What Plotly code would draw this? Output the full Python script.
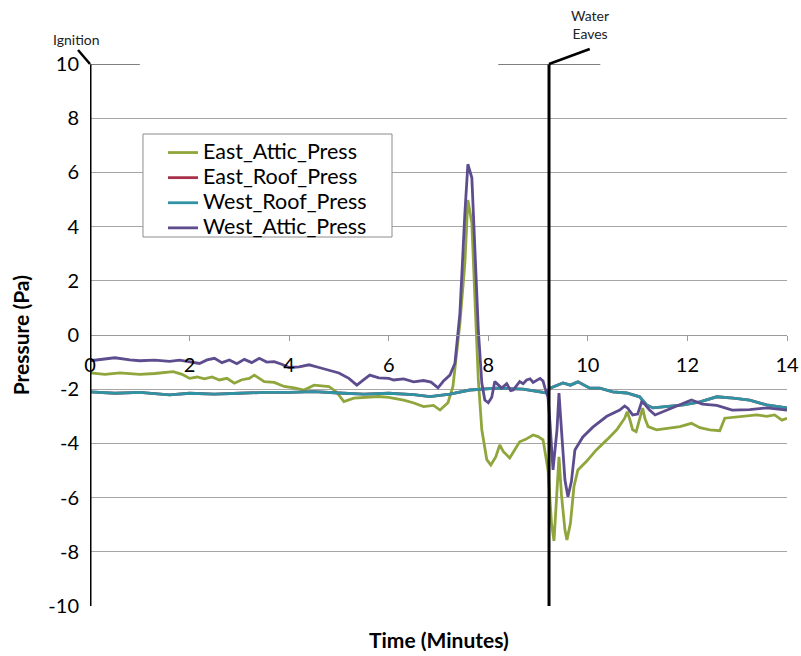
import plotly.graph_objects as go

# ---- data ----
east_attic_t = [0, 0.3, 0.6, 1.0, 1.3, 1.67, 1.85, 2.0, 2.15, 2.3, 2.45, 2.6, 2.75, 2.9, 3.05, 3.2, 3.3, 3.5, 3.7, 3.9,
                4.1, 4.3, 4.5, 4.65, 4.8, 4.95, 5.1, 5.3, 5.5, 5.8, 6.0, 6.3, 6.49, 6.7, 6.9, 7.03, 7.19, 7.29, 7.43, 7.53,
                7.59, 7.67, 7.73, 7.8, 7.87, 7.97, 8.05, 8.15, 8.23, 8.3, 8.43, 8.55, 8.63, 8.75, 8.9, 9.0, 9.1, 9.2, 9.27, 9.32,
                9.38, 9.42, 9.47, 9.54, 9.58, 9.65, 9.72, 9.8, 9.97, 10.17, 10.38, 10.58, 10.74, 10.79, 10.84, 10.9, 10.97, 11.04, 11.1, 11.15,
                11.21, 11.38, 11.58, 11.85, 12.08, 12.25, 12.45, 12.65, 12.75, 13.05, 13.39, 13.59, 13.75, 13.9, 14.0]
east_attic_p = [-1.4, -1.45, -1.4, -1.45, -1.42, -1.35, -1.45, -1.6, -1.55, -1.62, -1.55, -1.66, -1.6, -1.78, -1.65, -1.6, -1.48, -1.72, -1.75, -1.9,
                -1.95, -2.03, -1.85, -1.88, -1.9, -2.1, -2.46, -2.33, -2.3, -2.27, -2.3, -2.4, -2.5, -2.64, -2.6, -2.77, -2.5, -1.9, 0.44, 2.66,
                4.98, 4.13, 1.41, -1.66, -3.5, -4.6, -4.8, -4.5, -4.06, -4.3, -4.54, -4.2, -3.94, -3.85, -3.69, -3.75, -3.87, -4.98, -6.95, -7.6,
                -5.96, -4.5, -5.9, -7.2, -7.56, -6.95, -5.6, -4.98, -4.67, -4.24, -3.87, -3.5, -3.07, -2.83, -3.1, -3.5, -3.57, -3.14, -2.7, -3.1,
                -3.38, -3.5, -3.44, -3.38, -3.26, -3.42, -3.5, -3.53, -3.07, -3.01, -2.95, -3.0, -2.95, -3.14, -3.07]

roof_t = [0, 0.5, 1.0, 1.6, 2.0, 2.5, 3.0, 3.5, 4.0, 4.5, 5.0, 5.5, 6.0, 6.5, 6.83, 7.23, 7.63, 8.17, 8.7, 9.17,
          9.24, 9.5, 9.65, 9.8, 10.04, 10.24, 10.5, 10.78, 11.04, 11.18, 11.31, 11.58, 11.92, 12.25, 12.59, 12.92, 13.25, 13.59, 14.0]
east_roof_p = [-2.1, -2.15, -2.12, -2.21, -2.15, -2.18, -2.15, -2.12, -2.12, -2.09, -2.14, -2.18, -2.15, -2.2, -2.27, -2.18, -2.03, -1.96, -2.0, -2.14,
               -1.96, -1.77, -1.85, -1.73, -1.96, -1.96, -2.1, -2.14, -2.28, -2.58, -2.69, -2.65, -2.58, -2.47, -2.28, -2.33, -2.4, -2.58, -2.69]
west_roof_p = [-2.1, -2.15, -2.12, -2.21, -2.15, -2.18, -2.15, -2.12, -2.12, -2.09, -2.14, -2.18, -2.15, -2.2, -2.27, -2.18, -2.03, -1.96, -2.0, -2.14,
               -1.96, -1.77, -1.85, -1.73, -1.96, -1.96, -2.1, -2.14, -2.28, -2.58, -2.69, -2.65, -2.58, -2.47, -2.28, -2.33, -2.4, -2.58, -2.69]

west_attic_t = [0, 0.3, 0.5, 0.8, 1.0, 1.3, 1.6, 1.8, 2.0, 2.2, 2.35, 2.5, 2.65, 2.8, 2.95, 3.1, 3.25, 3.4, 3.55, 3.7,
                3.85, 4.0, 4.2, 4.4, 4.6, 4.8, 5.0, 5.2, 5.36, 5.5, 5.62, 5.8, 6.0, 6.1, 6.3, 6.5, 6.7, 6.85, 6.99, 7.1,
                7.23, 7.33, 7.43, 7.53, 7.59, 7.67, 7.73, 7.8, 7.87, 7.93, 8.0, 8.07, 8.13, 8.2, 8.27, 8.37, 8.45, 8.5, 8.63, 8.7,
                8.77, 8.84, 8.9, 9.04, 9.1, 9.14, 9.2, 9.24, 9.3, 9.38, 9.42, 9.47, 9.54, 9.6, 9.67, 9.74, 9.9, 10.1, 10.38, 10.64,
                10.74, 10.8, 10.9, 11.0, 11.08, 11.14, 11.24, 11.35, 11.58, 11.85, 12.08, 12.3, 12.59, 12.9, 13.25, 13.6, 14.0]
west_attic_p = [-0.95, -0.9, -0.84, -0.92, -0.95, -0.93, -0.97, -0.93, -0.98, -1.05, -0.92, -0.86, -1.02, -0.92, -1.06, -0.9, -1.02, -0.86, -1.0, -0.98,
                -1.08, -1.2, -1.18, -1.1, -1.2, -1.3, -1.4, -1.6, -1.85, -1.65, -1.48, -1.58, -1.6, -1.66, -1.62, -1.73, -1.68, -1.74, -1.95, -1.7,
                -1.48, -1.04, 0.8, 4.5, 6.3, 5.8, 3.26, 0.18, -1.77, -2.4, -2.5, -2.3, -1.72, -1.85, -1.96, -1.8, -2.05, -2.03, -1.72, -1.8,
                -1.66, -1.62, -1.75, -1.6, -1.7, -1.96, -2.3, -3.26, -4.98, -3.5, -2.14, -3.5, -5.35, -5.97, -5.4, -4.24, -3.76, -3.4, -3.0, -2.77,
                -2.62, -2.7, -2.95, -2.92, -2.47, -2.55, -2.77, -2.95, -2.77, -2.58, -2.4, -2.55, -2.6, -2.77, -2.75, -2.69, -2.77]

x_ticks = [0, 2, 4, 6, 8, 10, 12, 14]
y_ticks = [-10, -8, -6, -4, -2, 0, 2, 4, 6, 8, 10]
y_ticktext = ["-10", "-8", "-6", "-4", "-2", "0", "2", "4", "6", "8", "10"]
ignition_t = 0
water_t = 9.22

FONT = "Lato"
fig = go.Figure()
series = [
    ("East_Attic_Press", east_attic_t, east_attic_p, "#8FA63C"),
    ("East_Roof_Press", roof_t, east_roof_p, "#A8324A"),
    ("West_Roof_Press", roof_t, west_roof_p, "#2F93A3"),
    ("West_Attic_Press", west_attic_t, west_attic_p, "#5E4D8E"),
]
for name, t, p, c in series:
    fig.add_trace(go.Scatter(x=t, y=p, mode="lines",
                             name='<span style="font-size:21.5px">' + name + '</span>',
                             line=dict(color=c, width=2.8)))

# marker lines
for xv in (ignition_t, water_t):
    fig.add_shape(type="line", xref="x", yref="y", x0=xv, x1=xv, y0=-10, y1=10,
                  line=dict(color="black", width=3))
# callout lines
fig.add_shape(type="line", xref="x", yref="y", x0=0, x1=1.0, y0=10, y1=10,
              line=dict(color="#555555", width=1.5))
fig.add_shape(type="line", xref="x", yref="y", x0=8.2, x1=10.25, y0=10, y1=10,
              line=dict(color="#555555", width=1.5))
fig.add_shape(type="line", xref="paper", yref="paper", x0=0.0, y0=1.0, x1=-0.0172, y1=1.0258,
              line=dict(color="black", width=2.5))
fig.add_shape(type="line", xref="paper", yref="paper", x0=(549 - 90) / 697, y0=1.0, x1=0.717, y1=1.0277,
              line=dict(color="black", width=2.5))
# legend frame
fig.add_shape(type="rect", xref="paper", yref="paper", x0=0.076, x1=0.4333, y0=0.6808, y1=0.8708,
              fillcolor="white", line=dict(color="#8c8c8c", width=1), layer="above")

fig.add_annotation(text="Ignition", xref="paper", yref="paper", x=-0.019, y=1.046,
                   showarrow=False, xanchor="center", yanchor="middle",
                   font=dict(family=FONT, size=14, color="#222"))
fig.add_annotation(text="Water<br>Eaves", xref="paper", yref="paper", x=0.717, y=1.072,
                   showarrow=False, xanchor="center", yanchor="middle",
                   font=dict(family=FONT, size=14, color="#222"))
fig.add_annotation(text="<b>Time (Minutes)</b>", xref="paper", yref="paper", x=0.5, y=-0.035,
                   showarrow=False, xanchor="center", yanchor="top",
                   font=dict(family=FONT, size=21, color="black"))
fig.add_annotation(text="<b>Pressure (Pa)</b>", xref="paper", yref="paper", x=-0.1, y=0.5,
                   showarrow=False, textangle=-90, xanchor="center", yanchor="middle",
                   font=dict(family=FONT, size=21, color="black"))

fig.update_layout(
    width=801, height=656,
    margin=dict(l=90, r=14, t=64, b=50, autoexpand=False),
    paper_bgcolor="white", plot_bgcolor="white",
    font=dict(family=FONT, size=20, color="black"),
    showlegend=True,
    legend=dict(x=0.1047, y=0.869, xanchor="left", yanchor="top",
                bgcolor="rgba(0,0,0,0)", borderwidth=0,
                font=dict(family=FONT, size=17, color="black"),
                itemwidth=30, tracegroupgap=0),
    xaxis=dict(range=[0, 14], tickvals=x_ticks, showgrid=False, zeroline=False,
               anchor="free", position=0.5, showline=True, linecolor="#9a9a9a", linewidth=1,
               ticks="outside", ticklen=5, tickcolor="#9a9a9a", ticklabelstandoff=7, automargin=False,
               tickfont=dict(family=FONT, size=20, color="black")),
    yaxis=dict(range=[-10, 10], tickvals=y_ticks, ticktext=y_ticktext, showgrid=True, gridcolor="#a6a6a6", gridwidth=1,
               zeroline=False, showline=False, ticks="", ticklabelstandoff=10, automargin=False,
               tickfont=dict(family=FONT, size=20, color="black")),
)

fig.write_html("out.html", config={"displayModeBar": False},
               post_script="document.body.style.margin='0';")
